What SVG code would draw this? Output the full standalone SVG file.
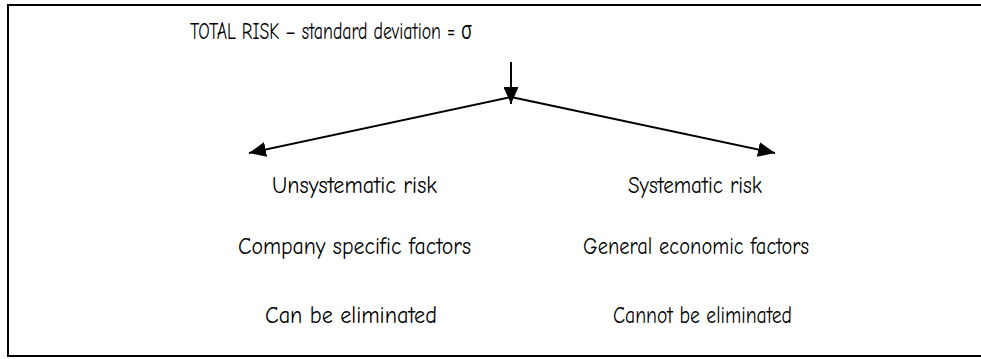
<svg xmlns="http://www.w3.org/2000/svg" width="981" height="359" viewBox="0 0 981 359">
<defs>
<style>
.t{font-family:"Comic Sans MS","Comic Neue","Open Sans","Liberation Sans",sans-serif;font-size:25px;fill:#000}
.c{stroke:#000;stroke-width:2;fill:none}
</style>
<marker id="ah" viewBox="0 0 10 10" refX="10" refY="5" markerWidth="17" markerHeight="15" markerUnits="userSpaceOnUse" orient="auto" preserveAspectRatio="none">
<path d="M0,0 L10,5 L0,10 z" fill="#000"/>
</marker>
</defs>
<rect x="8" y="5" width="990" height="351" fill="#fff" stroke="#000" stroke-width="2"/>
<g id="connectors">
<line class="c" x1="511" y1="62" x2="511" y2="104" marker-end="url(#ah)"/>
<line class="c" x1="511" y1="97" x2="249" y2="153" marker-end="url(#ah)"/>
<line class="c" x1="511" y1="97" x2="775" y2="153" marker-end="url(#ah)"/>
</g>
<g id="title"><text class="t" x="190" y="39" textLength="282" lengthAdjust="spacingAndGlyphs">TOTAL RISK – standard deviation = σ</text></g>
<g id="unsystematic">
<text class="t" x="272" y="193" textLength="165" lengthAdjust="spacingAndGlyphs">Unsystematic risk</text>
<text class="t" x="238" y="254" textLength="233" lengthAdjust="spacingAndGlyphs">Company specific factors</text>
<text class="t" x="265" y="323" textLength="172" lengthAdjust="spacingAndGlyphs">Can be eliminated</text>
</g>
<g id="systematic">
<text class="t" x="628" y="193" textLength="134" lengthAdjust="spacingAndGlyphs">Systematic risk</text>
<text class="t" x="583" y="254" textLength="226" lengthAdjust="spacingAndGlyphs">General economic factors</text>
<text class="t" x="613" y="323" textLength="179" lengthAdjust="spacingAndGlyphs">Cannot be eliminated</text>
</g>
</svg>
